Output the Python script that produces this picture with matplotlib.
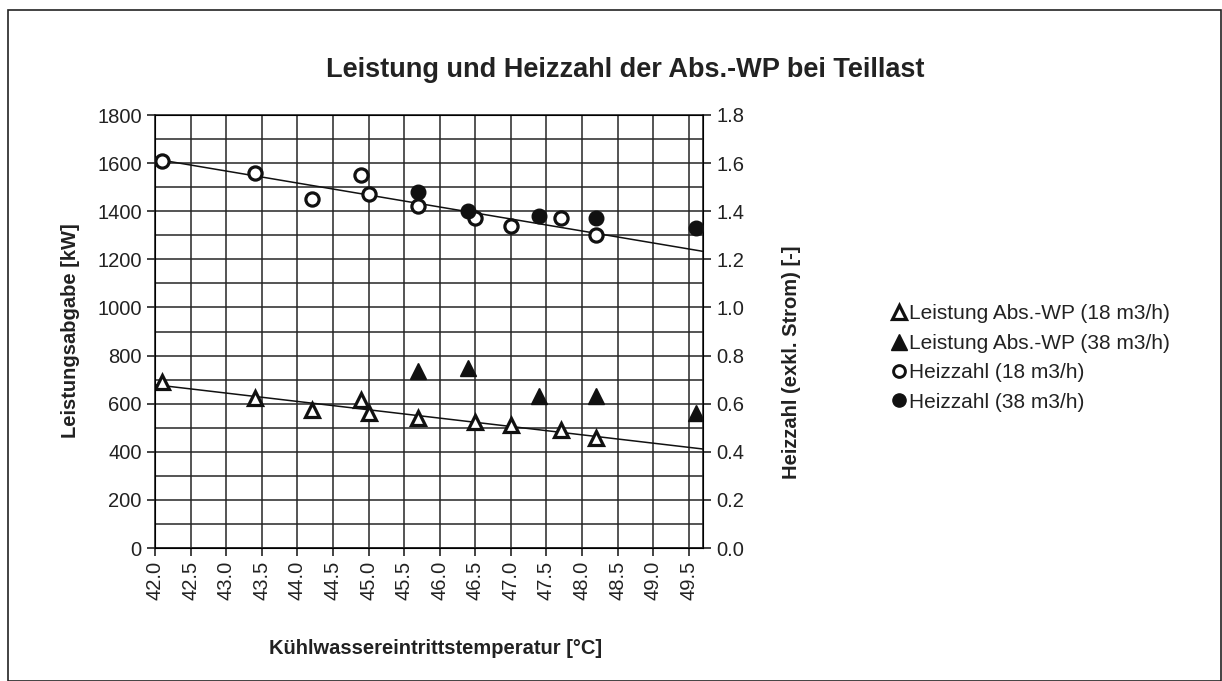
import numpy as np
import matplotlib
matplotlib.use("Agg")
import matplotlib.pyplot as plt
from matplotlib.patches import Rectangle
from matplotlib.lines import Line2D

plt.rcParams['font.family'] = ['Liberation Sans', 'DejaVu Sans']

# Leistung / Heizzahl, 18 m3/h
x18 = [42.1, 43.4, 44.2, 44.9, 45.0, 45.7, 46.5, 47.0, 47.7, 48.2]
leistung18 = [690, 622, 573, 615, 562, 540, 523, 510, 490, 458]
heiz18 = [1.61, 1.56, 1.45, 1.55, 1.47, 1.42, 1.37, 1.34, 1.37, 1.30]

# 38 m3/h
x38 = [45.7, 46.4, 47.4, 48.2, 49.6]
leistung38 = [735, 748, 630, 630, 562]
heiz38 = [1.48, 1.40, 1.38, 1.37, 1.33]

xticks = np.arange(42.0, 49.6, 0.5)
W, H = 1222, 681
ink = '#222222'

fig = plt.figure(figsize=(W / 100, H / 100), dpi=100)
# rahmen ums ganze diagramm
fig.patches.append(Rectangle((8 / W, 0), (1221 - 8) / W, 1 - 10 / H, transform=fig.transFigure,
                             fill=False, edgecolor=ink, linewidth=1.2))

ax = fig.add_axes([155 / W, 1 - 548 / H, (703 - 155) / W, (548 - 115) / H])
ax.set_xlim(42.0, 49.7)
ax.set_ylim(0, 1800)
ax.set_xticks(xticks)
ax.set_xticklabels(['%.1f' % t for t in xticks], rotation=90)
ax.set_yticks(range(0, 1801, 200))
ax.set_yticks(range(0, 1801, 100), minor=True)
ax.grid(True, which='both', color='#262626', linewidth=1.1)
ax.tick_params(axis='both', which='major', direction='out', length=6, width=1.2, labelsize=14.5, colors=ink)
ax.tick_params(axis='y', which='minor', length=0)
for s in ax.spines.values():
    s.set_color(ink)
    s.set_linewidth(1.2)

ax2 = ax.twinx()
ax2.set_ylim(0, 1.8)
ax2.set_yticks(np.arange(0, 1.81, 0.2))
ax2.set_yticklabels(['%.1f' % t for t in np.arange(0, 1.81, 0.2)])
ax2.tick_params(axis='y', direction='out', length=6, width=1.2, labelsize=14.5, colors=ink)

# trendlinien (linear) ueber den ganzen bereich
xt = np.array(ax.get_xlim())
p1 = np.polyfit(x18, leistung18, 1)
p2 = np.polyfit(x18, heiz18, 1)
ax.plot(xt, np.polyval(p1, xt), color='#111111', linewidth=1.1, zorder=3)
ax2.plot(xt, np.polyval(p2, xt), color='#111111', linewidth=1.1, zorder=3)

ax.plot(x18, leistung18, linestyle='none', marker='^', markersize=10.5, markerfacecolor='white',
        markeredgecolor='#111111', markeredgewidth=2.3, zorder=4)
ax.plot(x38, leistung38, linestyle='none', marker='^', markersize=11.5, color='#111111', zorder=4)
ax2.plot(x18, heiz18, linestyle='none', marker='o', markersize=9.5, markerfacecolor='white',
         markeredgecolor='#111111', markeredgewidth=2.3, zorder=4)
ax2.plot(x38, heiz38, linestyle='none', marker='o', markersize=10.5, color='#111111', zorder=4)

fig.text(625 / W, 1 - 70 / H, 'Leistung und Heizzahl der Abs.-WP bei Teillast', ha='center', va='center',
         fontsize=19.5, fontweight='bold', color=ink)
fig.text(436 / W, 1 - 648 / H, 'Kühlwassereintrittstemperatur [°C]', ha='center', va='center',
         fontsize=14.5, fontweight='bold', color=ink)
fig.text(70 / W, 1 - 331 / H, 'Leistungsabgabe [kW]', ha='center', va='center', rotation=90,
         fontsize=14.5, fontweight='bold', color=ink)
fig.text(792 / W, 1 - 362 / H, 'Heizzahl (exkl. Strom) [-]', ha='center', va='center', rotation=90,
         fontsize=14.5, fontweight='bold', color=ink)

handles = [
    Line2D([], [], linestyle='none', marker='^', markersize=10, markerfacecolor='white',
           markeredgecolor='#111111', markeredgewidth=2.3),
    Line2D([], [], linestyle='none', marker='^', markersize=11, color='#111111'),
    Line2D([], [], linestyle='none', marker='o', markersize=8.5, markerfacecolor='white',
           markeredgecolor='#111111', markeredgewidth=2.1),
    Line2D([], [], linestyle='none', marker='o', markersize=9.5, color='#111111'),
]
labels = ['Leistung Abs.-WP (18 m3/h)', 'Leistung Abs.-WP (38 m3/h)', 'Heizzahl (18 m3/h)', 'Heizzahl (38 m3/h)']
leg = fig.legend(handles, labels, loc='center left', bbox_to_anchor=(881 / W, 1 - 358 / H), frameon=False,
                 fontsize=15, handlelength=0.7, handletextpad=0.15, labelspacing=0.5, borderpad=0)
for t in leg.get_texts():
    t.set_color(ink)

fig.savefig('out.png', dpi=100, facecolor='white')
